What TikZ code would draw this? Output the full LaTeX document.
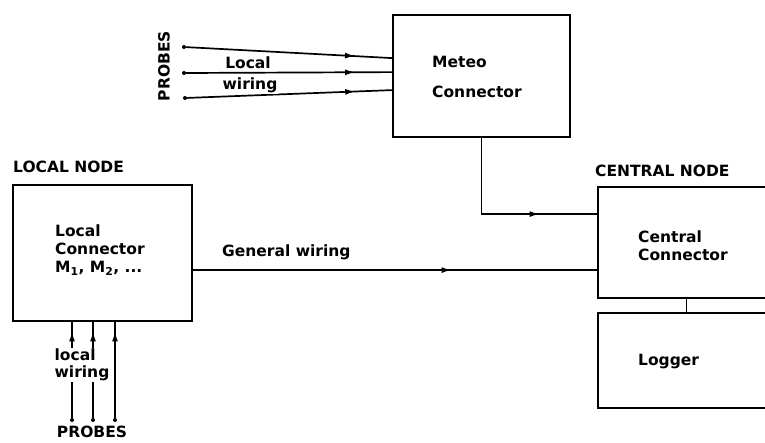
\documentclass[tikz,border=0pt]{standalone}
\usepackage{fontspec}
\setmainfont{DejaVu Sans}
\usepackage{tikz}
\usetikzlibrary{arrows.meta, positioning, calc, decorations.markings}

\begin{document}
\begin{tikzpicture}[
          x=1pt, y=-1pt,
          box/.style={draw, rectangle, line width=1.8pt, inner sep=0pt},
          wire/.style={line width=1.7pt},
          lbl/.style={font=\fontsize{15.5}{19}\selectfont\bfseries, align=left, inner sep=0pt},
          probe/.style={circle, fill, inner sep=0pt, minimum size=4pt},
          midarrow/.style={postaction={decorate},
            decoration={markings, mark=at position #1 with {\arrow{Latex[length=10pt,width=6pt]}}}}
        ]
          \useasboundingbox (0,0) rectangle (765,442);

          % boxes
          \node[box, minimum width=177pt, minimum height=122pt] (meteo) at (481.5,76) {};
          \node[box, minimum width=179pt, minimum height=136pt] (local) at (102.5,253) {};
          \node[box, minimum width=177pt, minimum height=111pt] (central) at (686.5,242.5) {};
          \node[box, minimum width=177pt, minimum height=95pt] (logger) at (686.5,360.5) {};

          % box texts
          \node[lbl, anchor=west] (meteotxt) at (432,62) {Meteo};
          \node[lbl, anchor=west] (meteotxtb) at (432,92) {Connector};
          \node[lbl, anchor=west] (localtxt) at (55,250) {Local\\[-1pt]Connector\\[-1pt]M\textsubscript{1}, M\textsubscript{2}, ...};
          \node[lbl, anchor=west] (centraltxt) at (638,246) {Central\\[-1pt]Connector};
          \node[lbl, anchor=west] (loggertxt) at (638,362) {Logger};
          \node[lbl, anchor=base west] (localhd) at (13,172) {LOCAL NODE};
          \node[lbl, anchor=base west] (centralhd) at (595,176) {CENTRAL NODE};

          % meteo probes
          \node[probe] (pa1) at (184,47) {};
          \node[probe] (pa2) at (184,73) {};
          \node[probe] (pa3) at (185,98) {};
          \node[lbl, rotate=90] (probestop) at (164,66) {PROBES};
          \draw[wire, midarrow=0.82] (pa1) -- ($(meteo.north west)+(0,44)$);
          \draw[wire, midarrow=0.82] (pa2) -- ($(meteo.north west)+(0,58)$);
          \draw[wire, midarrow=0.82] (pa3) -- ($(meteo.north west)+(0,76)$);
          \node[lbl, fill=white, inner sep=1pt] (lwtop) at (248,63) {Local};
          \node[lbl, fill=white, inner sep=1pt] (lwtopb) at (250,85) {wiring};

          % local probes
          \node[probe] (pb1) at (72,420) {};
          \node[probe] (pb2) at (93,420) {};
          \node[probe] (pb3) at (115,420) {};
          \foreach \p in {pb1, pb2, pb3}
            \draw[wire, midarrow=0.9] (\p) -- (\p |- local.south);
          \node[lbl, fill=white, inner sep=1pt] (lwbot) at (82,365) {local\\[-2pt]wiring};
          \node[lbl] (probesbot) at (92,432) {PROBES};

          % general wiring
          \draw[wire, midarrow=0.64] ($(local.north east)+(0,86)$) -- ($(central.north west)+(0,84)$);
          \node[lbl, anchor=west] (gwtxt) at (222,252) {General wiring};

          % meteo to central, central to logger
          \draw[wire, midarrow=0.7] (meteo.south) |- ($(central.north west)+(0,28)$);
          \draw[wire] (central.south) -- (logger.north);
        \end{tikzpicture}
\end{document}
